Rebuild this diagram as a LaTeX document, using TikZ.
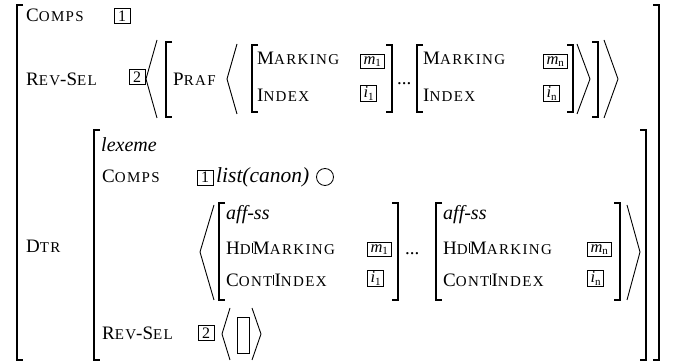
\documentclass[tikz,border=0pt]{standalone}
\usepackage{fontspec}
\setmainfont{Liberation Serif}
\newfontfamily\attrfont[LetterSpace=9]{Liberation Serif}
\newcommand\Sc[2]{{\attrfont\fontsize{19}{20}\selectfont #1\fontsize{15}{15}\selectfont #2}}
\newcommand\Vb{\hspace{0.8pt}\rule[2pt]{0.6pt}{10pt}\hspace{0.8pt}}
\newcommand\Sub[2]{\textit{#1}\raisebox{-2.5pt}{\fontsize{11}{11}\selectfont #2}}
\tikzset{
  attr/.style={anchor=base west, inner sep=0pt, font=\fontsize{19}{20}\selectfont},
  ityp/.style={anchor=base west, inner sep=0pt, font=\fontsize{20}{22}\selectfont\itshape},
  tagbox/.style={draw, line width=0.7pt, inner sep=1.2pt, minimum width=16pt, minimum height=15pt, font=\fontsize{16}{16}\selectfont},
  vbox/.style={draw, line width=0.7pt, inner xsep=3.2pt, inner ysep=1.5pt, minimum height=14.5pt, anchor=west, font=\fontsize{16.5}{16}\selectfont},
  brk/.style={line width=1.3pt},
  ang/.style={line width=0.9pt},
}
\begin{document}
\begin{tikzpicture}[x=1pt,y=-1pt]
\useasboundingbox (0,0) rectangle (673,363);
% outer brackets
\draw[brk] (23,5) -- (17,5) -- (17,360) -- (23,360);
\draw[brk] (653,5) -- (659,5) -- (659,360) -- (653,360);
% row 1
\node[attr] (comps) at (26,22) {\Sc{C}{OMPS}};
\node[tagbox] (t1) at (122,16) {1};
% row 2
\node[attr] (revsel) at (26,86) {\Sc{R}{EV}-\Sc{S}{EL}};
\node[tagbox] (t2) at (137,77) {2};
\draw[ang] (157,40) -- (146,79) -- (157,118);
\draw[brk] (172,42) -- (166,42) -- (166,117) -- (172,117);
\node[attr] (praf) at (173,86) {\Sc{P}{RAF}};
\draw[ang] (237,44) -- (227,79) -- (237,114);
\draw[brk] (258,45) -- (252,45) -- (252,112) -- (258,112);
\node[attr] (mk1) at (257,65) {\Sc{M}{ARKING}};
\node[attr] (ix1) at (257,102) {\Sc{I}{NDEX}};
\node[vbox] (m1) at (360,61.5) {\Sub{m}{1}};
\node[vbox] (i1) at (360,93.5) {\Sub{i}{1}};
\draw[brk] (386,45) -- (392,45) -- (392,112) -- (386,112);
\node[attr] (dots1) at (397,85) {...};
\draw[brk] (423,45) -- (417,45) -- (417,112) -- (423,112);
\node[attr] (mk2) at (423,65) {\Sc{M}{ARKING}};
\node[attr] (ix2) at (423,102) {\Sc{I}{NDEX}};
\node[vbox] (mn) at (543,61.5) {\Sub{m}{n}};
\node[vbox] (in) at (543,93.5) {\Sub{i}{n}};
\draw[brk] (567,45) -- (573,45) -- (573,112) -- (567,112);
\draw[ang] (577,44) -- (590,79) -- (577,114);
\draw[brk] (592,42) -- (598,42) -- (598,117) -- (592,117);
\draw[ang] (604,40) -- (618,79) -- (604,118);
% DTR
\node[attr] (dtr) at (26,253) {\Sc{D}{TR}};
\draw[brk] (100,130) -- (94,130) -- (94,360) -- (100,360);
\draw[brk] (640,130) -- (646,130) -- (646,360) -- (640,360);
\node[ityp] (lex) at (101,152) {lexeme};
\node[attr] (comps2) at (102,183) {\Sc{C}{OMPS}};
\node[tagbox] (t1b) at (205,177.5) {1};
\node[ityp, font=\fontsize{21.5}{22}\selectfont\itshape] (lc) at (216,183) {list(canon)};
\draw[line width=0.8pt] (325,177) circle (8.5);
\draw[ang] (214,205) -- (200,252) -- (214,300);
\draw[brk] (225,203) -- (219,203) -- (219,300) -- (225,300);
\node[ityp] (aff1) at (226,220) {aff-ss};
\node[attr] (hd1) at (226,255) {\Sc{H}{D}\Vb\Sc{M}{ARKING}};
\node[attr] (ct1) at (226,287) {\Sc{C}{ONT}\Vb\Sc{I}{NDEX}};
\node[vbox] (m1b) at (367,249.5) {\Sub{m}{1}};
\node[vbox] (i1b) at (367,278.5) {\Sub{i}{1}};
\draw[brk] (392,203) -- (398,203) -- (398,300) -- (392,300);
\node[attr] (dots2) at (405,255) {...};
\draw[brk] (442,203) -- (436,203) -- (436,300) -- (442,300);
\node[ityp] (aff2) at (443,220) {aff-ss};
\node[attr] (hd2) at (443,255) {\Sc{H}{D}\Vb\Sc{M}{ARKING}};
\node[attr] (ct2) at (443,287) {\Sc{C}{ONT}\Vb\Sc{I}{NDEX}};
\node[vbox] (mnb) at (587,249.5) {\Sub{m}{n}};
\node[vbox] (inb) at (587,278.5) {\Sub{i}{n}};
\draw[brk] (614,203) -- (620,203) -- (620,300) -- (614,300);
\draw[ang] (627,205) -- (640,252) -- (627,300);
\node[attr] (rs2) at (102,340) {\Sc{R}{EV}-\Sc{S}{EL}};
\node[tagbox] (t2b) at (206,333) {2};
\draw[ang] (230,308) -- (222,334) -- (230,360);
\draw[line width=0.7pt] (237,317) rectangle (249,353);
\draw[ang] (252,308) -- (261,334) -- (252,360);
\end{tikzpicture}
\end{document}
